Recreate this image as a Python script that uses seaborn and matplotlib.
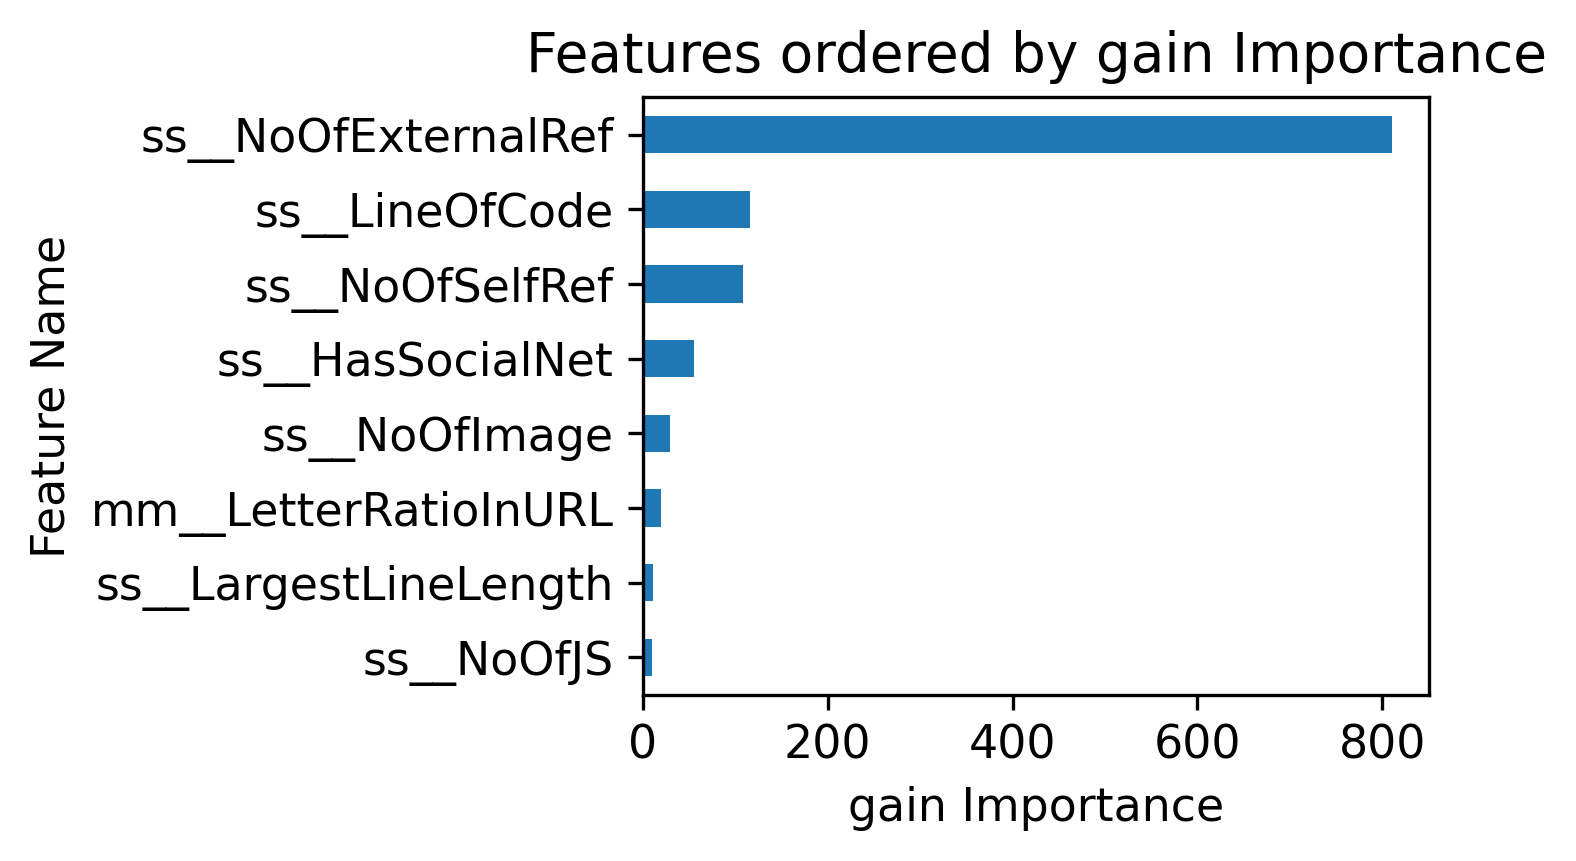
import seaborn as sns
import pandas
import matplotlib
import matplotlib.pyplot as plt

matplotlib.rcParams["font.size"] = 11

features = [
    "ss__NoOfExternalRef",
    "ss__LineOfCode",
    "ss__NoOfSelfRef",
    "ss__HasSocialNet",
    "ss__NoOfImage",
    "mm__LetterRatioInURL",
    "ss__LargestLineLength",
    "ss__NoOfJS",
]
gain = [810.5, 115.3, 107.8, 54.8, 28.8, 19.1, 10.4, 10.2]

data = pandas.DataFrame({"Feature Name": features, "gain Importance": gain})

fig, ax = plt.subplots(nrows=1, ncols=1)
fig.set_size_inches(1576 / 300, 861 / 300)
fig.subplots_adjust(left=0.408, right=0.907, top=0.887, bottom=0.193)

sns.barplot(
    ax=ax,
    data=data,
    x="gain Importance",
    y="Feature Name",
    orient="h",
    color="#1f77b4",
    saturation=1,
    width=0.5,
    errorbar=None,
)

ax.set_title("Features ordered by gain Importance")
ax.set_xlabel("gain Importance")
ax.set_ylabel("Feature Name")

fig.savefig("out.png", dpi=300)
